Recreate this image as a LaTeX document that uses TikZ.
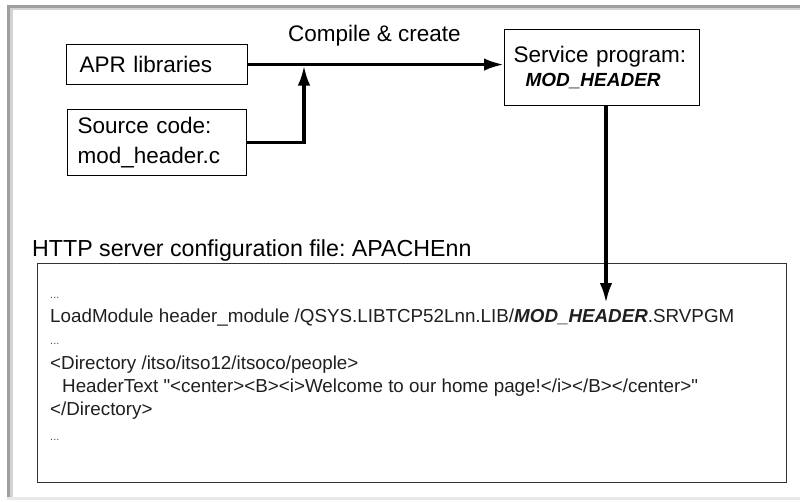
\documentclass[tikz,border=0pt]{standalone}
\usepackage{fontspec}
\setmainfont{Liberation Sans}
% plain straight quotes for the listing
\newfontfamily\listfont{Liberation Sans}[Ligatures=TeXOff]
\usetikzlibrary{arrows.meta}
\begin{document}
\frenchspacing
\begin{tikzpicture}[x=1pt,y=-1pt,
  box/.style={draw=black, line width=1.1pt, anchor=north west, align=left,
    inner ysep=0pt, font=\fontsize{22.5}{30}\selectfont},
  flow/.style={line width=3.4pt, -{Latex[length=20pt,width=12.5pt]}},
  cfgtxt/.style={anchor=base west, inner sep=0pt, text=black!88,
    font=\listfont\fontsize{18.8}{23}\selectfont},
  dots/.style={anchor=base west, inner sep=0pt, text=black!70,
    font=\fontsize{11}{13}\selectfont},
]
\useasboundingbox (0,0) rectangle (800,501);
% sunken frame around the sheet
\fill[gray!75] (7,5) rectangle (800,8);
\fill[gray!35] (10,8) rectangle (800,10);
\fill[gray!75] (7,5) rectangle (10,497);
\fill[gray!35] (10,8) rectangle (13,497);
\fill[gray!18] (7,497) rectangle (800,500);

% input boxes
\node[box, inner xsep=13pt, text width=155pt, minimum height=40pt] (apr) at (66,44) {APR libraries};
\node[box, inner xsep=10pt, text width=159pt, minimum height=66pt] (src) at (67,109)
  {Source code:\\mod\_header.c};
% output box
\node[box, inner xsep=9pt, text width=177pt, minimum height=76pt,
  font=\fontsize{22.5}{24}\selectfont] (svc) at (504,29)
  {Service program:\\\hspace*{12pt}{\fontsize{19}{24}\selectfont\bfseries\itshape MOD\_HEADER}};

\node[anchor=base west, inner sep=0pt, font=\fontsize{22.5}{27}\selectfont] (lbl) at (288,41) {Compile \& create};

% connectors
\coordinate (jn) at (304,65.5);
\coordinate (tip) at (606,303);
\draw[flow] (apr.east) -- (apr.east -| svc.west);
\draw[flow] (src.east) -| (jn);

% configuration file
\node[anchor=base west, inner sep=0pt, font=\fontsize{23.2}{27}\selectfont] (title) at (32,256)
  {HTTP server configuration file: APACHEnn};
\node[draw=black!80, line width=1pt, anchor=north west, minimum width=749pt,
  minimum height=219pt, inner sep=0pt] (cfg) at (37,263) {};
\node[dots] (d1) at (50,298) {...};
\node[cfgtxt] (l1) at (50,322) {LoadModule header\_module /QSYS.LIBTCP52Lnn.LIB/{\bfseries\itshape MOD\_HEADER}.SRVPGM};
\node[dots] (d2) at (50,344) {...};
\node[cfgtxt] (l2) at (50,369) {<Directory /itso/itso12/itsoco/people>};
\node[cfgtxt] (l3) at (62,392) {HeaderText "<center><B><i>Welcome to our home page!</i></B></center>"};
\node[cfgtxt] (l4) at (50,415) {</Directory>};
\node[dots] (d3) at (50,440) {...};

\draw[flow] (tip |- svc.south) -- (tip);
\end{tikzpicture}
\end{document}
